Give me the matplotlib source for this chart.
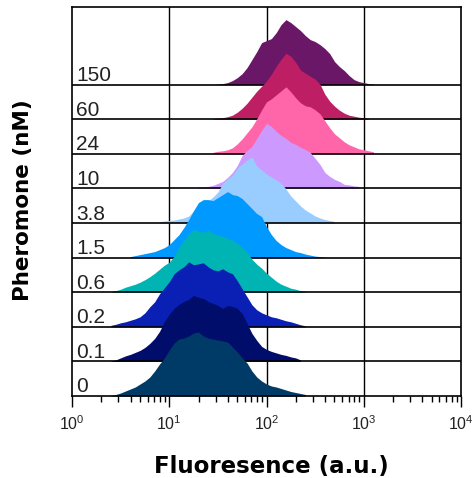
import numpy as np
import matplotlib
matplotlib.use("Agg")
import matplotlib.pyplot as plt
from matplotlib.ticker import LogLocator, FuncFormatter, NullFormatter

# ---------------- data ----------------
concentrations = ["0", "0.1", "0.2", "0.6", "1.5", "3.8", "10", "24", "60", "150"]
colors = ["#003A66", "#000D6B", "#0A20B4", "#00B4B4", "#0099FF",
          "#99CCFF", "#CC99FF", "#FF66AA", "#BE1E63", "#6B1767"]

bin_step = 0.05  # decades per bin
# log10 of the first bin for each histogram
start_log = [0.40, 0.40, 0.40, 0.40, 0.60, 0.90, 1.30, 1.45, 1.45, 1.45]

h_0 = [0.5, 1.5, 3, 5, 7, 9, 12, 15, 19, 25, 32, 38, 46, 53, 57, 58, 60, 63, 64, 60,
       58, 57, 56, 55, 54, 49, 44, 38, 33, 25, 19, 15, 12, 10, 9, 7.5, 6, 4.5, 3.5, 2.5, 1.5]
h_01 = [0.5, 1.5, 3.5, 5.5, 7, 9, 11, 14, 18, 23, 30, 40, 47, 53, 57, 60, 62, 66, 64, 63,
        60, 58, 56, 53, 56, 55, 53, 48, 38, 28, 21, 15, 12, 10, 8.5, 7, 6, 4.5, 3.5, 1.5]
h_02 = [1.5, 2.5, 4, 5, 6.5, 8, 10, 14, 20, 25, 33, 39, 45, 53, 57, 60, 65, 62, 63, 64,
        60, 57, 56, 58, 55, 53, 46, 38, 30, 22, 17, 14, 12, 10, 9, 7.5, 6, 5, 3.5, 2, 1]
h_06 = [0.5, 1.5, 3, 5, 6.5, 8, 10, 12.5, 15.5, 19, 23, 27, 30, 36, 45, 52, 58, 63, 61, 60,
        62, 59, 57, 56, 54, 52, 49, 45, 40, 33, 28, 24, 19, 15, 11, 8, 6, 4, 3, 1.5, 0.5]
h_15 = [1, 2, 3, 4, 5, 6, 8, 10, 13, 18, 23, 30, 38, 47, 55, 58, 58, 57, 60, 63,
        66, 63, 62, 59, 54, 49, 44, 41, 31, 23, 17, 13, 10, 8, 6, 5, 3.5, 2.5, 1.5, 1, 0.5]
h_38 = [1.5, 2, 2.5, 3, 4, 5, 7, 12, 16, 19, 22, 26, 31, 40, 44, 48, 55, 59, 63, 66,
        57, 53, 49, 46, 43, 40, 34, 27, 22, 17, 13, 10, 7, 5, 3.5, 2.5, 1.5]
h_10 = [1, 1.5, 2, 3, 5, 7, 11, 16, 23, 33, 38, 42, 50, 58, 65, 62, 57, 53, 50, 46,
        44, 41, 39, 36, 30, 24, 16, 12, 9, 7, 4, 3.5, 2.5, 2]
h_24 = [1.5, 2.5, 3, 4, 6, 10, 15, 21, 27, 35, 44, 52, 55, 59, 63, 67, 62, 56, 51, 48,
        47, 44, 40, 33, 26, 20, 16, 12, 9, 7, 5, 4, 3, 2]
h_60 = [0.5, 1, 1.5, 2.5, 4, 7, 11, 16, 22, 28, 33, 38, 45, 53, 60, 66, 63, 57, 49, 46,
        43, 40, 35, 25, 18, 13, 9, 6, 4, 3, 2, 1.5, 0.5]
h_150 = [0, 0.5, 1, 2, 4, 7, 11, 17, 25, 33, 42, 44, 46, 52, 60, 65, 62, 58, 54, 49,
         45, 43, 40, 36, 31, 23, 18, 14, 9, 5, 3, 2, 1, 0.5]
heights = [h_0, h_01, h_02, h_06, h_15, h_38, h_10, h_24, h_60, h_150]

x_major = [1, 10, 100, 1000, 10000]

# ---------------- figure ----------------
plt.rcParams["font.family"] = ["Liberation Sans", "DejaVu Sans"]
plt.rcParams["mathtext.fontset"] = "custom"
plt.rcParams["mathtext.rm"] = "Liberation Sans"
plt.rcParams["mathtext.it"] = "Liberation Sans:italic"
plt.rcParams["mathtext.bf"] = "Liberation Sans:bold"
plt.rcParams["mathtext.default"] = "regular"

fig = plt.figure(figsize=(4.75, 4.78), dpi=100)
ax = fig.add_axes([72 / 475, 1 - 396 / 478, (461 - 72) / 475, (396 - 7) / 478])

row_h = 34.6
n = len(concentrations)
ax.set_xscale("log")
ax.set_xlim(1, 10000)
ax.set_ylim(0, 389)

# vertical grid lines (behind everything)
for xv in x_major[1:-1]:
    ax.axvline(xv, color="black", lw=1.0, zorder=1)

# histograms: top row first, lower rows drawn on top
for k in range(n - 1, -1, -1):
    h = np.asarray(heights[k], dtype=float)
    L = start_log[k] + bin_step * np.arange(len(h))
    x = 10 ** L
    base = k * row_h
    z = 3 + 2 * (n - k)
    ax.fill_between(x, base, base + h, color=colors[k], lw=0, zorder=z)
    if k > 0:
        ax.axhline(base, color="black", lw=1.2, zorder=z + 1)
    ax.text(10 ** 0.045, base + 3.5, concentrations[k], fontsize=15,
            color="#222222", ha="left", va="baseline", zorder=40)

for s in ax.spines.values():
    s.set_linewidth(1.2)
    s.set_zorder(50)

ax.xaxis.set_major_locator(LogLocator(base=10, numticks=10))
ax.xaxis.set_minor_locator(LogLocator(base=10, subs=np.arange(2, 10), numticks=10))
ax.xaxis.set_major_formatter(FuncFormatter(lambda v, p: r"$10^{%d}$" % round(np.log10(v))))
ax.xaxis.set_minor_formatter(NullFormatter())
ax.tick_params(axis="x", which="major", direction="out", length=8, width=1,
               labelsize=11.5, pad=5, top=False, labelcolor="#222222")
ax.tick_params(axis="x", which="minor", direction="out", length=4.5, width=1, top=False)
ax.tick_params(axis="y", left=False, labelleft=False, right=False)

fig.text(271 / 475, 1 - 466 / 478, "Fluoresence (a.u.)", fontsize=16.5,
         fontweight="bold", family="DejaVu Sans", ha="center", va="center")
fig.text(23 / 475, 1 - 200 / 478, "Pheromone (nM)", fontsize=15.5,
         fontweight="bold", family="DejaVu Sans", ha="center", va="center",
         rotation=90)

fig.savefig("out.png", dpi=100)
